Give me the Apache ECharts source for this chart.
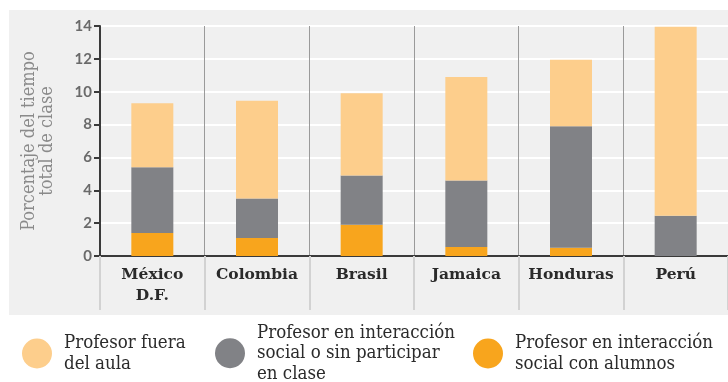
<!DOCTYPE html>
<html>
<head>
<meta charset="utf-8">
<script src="https://cdn.jsdelivr.net/npm/echarts@6/dist/echarts.min.js"></script>
<style>
  html, body { margin: 0; padding: 0; background: #ffffff; }
  #chart { width: 728px; height: 382px; }
</style>
</head>
<body>
<div id="chart"></div>
<script>
// Share of total class time, by country (stacked segments)
const categories = ['México\nD.F.', 'Colombia', 'Brasil', 'Jamaica', 'Honduras', 'Perú'];
const seriesNames = [
  'Profesor fuera del aula',
  'Profesor en interacción social o sin participar en clase',
  'Profesor en interacción social con alumnos'
];
const withStudents = [1.4, 1.1, 1.9, 0.55, 0.5, 0];
const socialOrIdle = [4.0, 2.4, 3.0, 4.05, 7.4, 2.45];
const outOfRoom = [3.9, 5.95, 5.0, 6.3, 4.05, 11.5];
const yTicks = [0, 2, 4, 6, 8, 10, 12, 14];

const colors = {
  out: '#fdce8c',
  idle: '#818286',
  students: '#f8a51d'
};

const legendLabels = {
  [seriesNames[0]]: 'Profesor fuera\ndel aula',
  [seriesNames[1]]: 'Profesor en interacción\nsocial o sin participar\nen clase',
  [seriesNames[2]]: 'Profesor en interacción\nsocial con alumnos'
};

const serifLight = '"DejaVu Serif Condensed", "DejaVu Serif", serif';

// One legend block per series so each can sit at its own spot under the plot
function legendAt(name, left, bottom) {
  return {
    data: [name],
    left: left,
    top: 'auto',
    bottom: bottom,
    orient: 'horizontal',
    icon: 'circle',
    itemWidth: 30,
    itemHeight: 30,
    itemGap: 0,
    selectedMode: false,
    formatter: n => legendLabels[n],
    textStyle: {
      fontFamily: serifLight,
      fontSize: 18.5,
      lineHeight: 20.5,
      color: '#2b2b2b',
      padding: [0, 0, 0, 7]
    }
  };
}

const chart = echarts.init(document.getElementById('chart'), null, { renderer: 'canvas' });

chart.setOption({
  animation: false,
  backgroundColor: '#ffffff',
  graphic: [{
    type: 'rect',
    z: -10,
    shape: { x: 9, y: 10, width: 719, height: 305 },
    style: { fill: '#f0f0f0' }
  }],
  legend: [
    legendAt(seriesNames[0], 17, 3),
    legendAt(seriesNames[1], 210, -7),
    legendAt(seriesNames[2], 468, 3)
  ],
  grid: { left: 100, right: 0, top: 26, bottom: 126 },
  xAxis: {
    type: 'category',
    data: categories,
    axisLine: { show: true, lineStyle: { color: '#3a3a3a', width: 2 } },
    axisTick: {
      show: true,
      alignWithLabel: false,
      interval: 0,
      length: 54,
      lineStyle: { color: '#d2d2d2', width: 2 }
    },
    splitLine: { show: true, interval: 0, lineStyle: { color: '#9a9a9a', width: 1 } },
    axisLabel: {
      interval: 0,
      margin: 8,
      fontFamily: '"DejaVu Serif", serif',
      fontWeight: 'bold',
      fontSize: 15.5,
      lineHeight: 21,
      color: '#2a2a2a',
      verticalAlign: 'top'
    }
  },
  yAxis: {
    type: 'value',
    min: yTicks[0],
    max: yTicks[yTicks.length - 1],
    interval: 2,
    name: 'Porcentaje del tiempo\ntotal de clase',
    nameLocation: 'middle',
    nameGap: 44,
    nameRotate: 90,
    nameTextStyle: {
      fontFamily: serifLight,
      fontSize: 18,
      lineHeight: 18,
      color: '#8a8a8a'
    },
    axisLine: { show: true, lineStyle: { color: '#3a3a3a', width: 2 } },
    axisTick: { show: true, length: 6, lineStyle: { color: '#3a3a3a', width: 2 } },
    splitLine: { show: true, lineStyle: { color: '#ffffff', width: 2 } },
    axisLabel: {
      margin: 8,
      fontFamily: 'Lato, "Open Sans", sans-serif',
      fontWeight: 'bold',
      fontSize: 15,
      color: '#6a6a6a'
    }
  },
  series: [
    {
      name: seriesNames[2],
      type: 'bar',
      stack: 'total',
      data: withStudents,
      barWidth: 42,
      itemStyle: { color: colors.students }
    },
    {
      name: seriesNames[1],
      type: 'bar',
      stack: 'total',
      data: socialOrIdle,
      barWidth: 42,
      itemStyle: { color: colors.idle }
    },
    {
      name: seriesNames[0],
      type: 'bar',
      stack: 'total',
      data: outOfRoom,
      barWidth: 42,
      itemStyle: { color: colors.out }
    }
  ]
});
</script>
</body>
</html>
